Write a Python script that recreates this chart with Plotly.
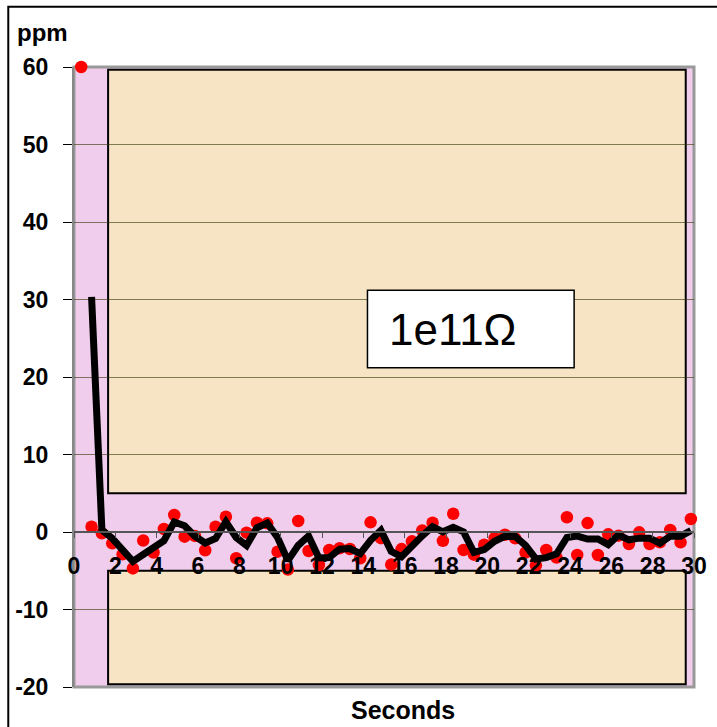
import plotly.graph_objects as go
import pandas as pd

# ---- data ----
seconds = [0.35, 0.85, 1.35, 1.85, 2.35, 2.85, 3.35, 3.85, 4.35, 4.85,
           5.35, 5.85, 6.35, 6.85, 7.35, 7.85, 8.35, 8.85, 9.35, 9.85,
           10.35, 10.85, 11.35, 11.85, 12.35, 12.85, 13.35, 13.85, 14.35, 14.85,
           15.35, 15.85, 16.35, 16.85, 17.35, 17.85, 18.35, 18.85, 19.35, 19.85,
           20.35, 20.85, 21.35, 21.85, 22.35, 22.85, 23.35, 23.85, 24.35, 24.85,
           25.35, 25.85, 26.35, 26.85, 27.35, 27.85, 28.35, 28.85, 29.35, 29.85]
ppm = [60, 0.68, -0.17, -1.46, -2.88, -4.7, -1.1, -2.65, 0.39, 2.19,
       -0.6, -0.5, -2.35, 0.68, 1.97, -3.39, -0.09, 1.2, 1.12, -2.54,
       -4.85, 1.42, -2.45, -4.26, -2.32, -2.1, -2.19, -3.39, 1.25, -0.8,
       -4.2, -2.2, -1.2, 0.2, 1.2, -1.14, 2.36, -2.32, -2.92, -1.63,
       -0.78, -0.35, -0.82, -2.65, -4.3, -2.32, -3.3, 1.9, -2.97, 1.15,
       -2.97, -0.3, -0.47, -1.55, -0.04, -1.55, -1.33, 0.26, -1.33, 1.68]

x_ticks = [0, 2, 4, 6, 8, 10, 12, 14, 16, 18, 20, 22, 24, 26, 28, 30]
y_ticks = [-20, -10, 0, 10, 20, 30, 40, 50, 60]
label_text = "1e11Ω"

# 2-period moving average trendline (as in the original spreadsheet chart)
trend = pd.Series(ppm).rolling(2).mean()

FONT = "Arial, Liberation Sans, sans-serif"
PINK = "#F0CDEC"
BEIGE = "#F7E4C4"

fig = go.Figure()
fig.add_trace(go.Scatter(
    x=seconds, y=ppm, mode="markers", cliponaxis=False,
    marker=dict(color="#FF0000", size=12.5, line=dict(width=0)),
    showlegend=False, hoverinfo="skip"))
fig.add_trace(go.Scatter(
    x=seconds[1:], y=list(trend[1:]), mode="lines",
    line=dict(color="black", width=7),
    showlegend=False, hoverinfo="skip"))

shapes = [
    # plot-area border
    dict(type="rect", xref="paper", yref="paper", x0=0, x1=1, y0=0, y1=1,
         line=dict(color="#999999", width=3), layer="below"),
    # beige panels
    dict(type="rect", xref="x", yref="y", x0=1.65, x1=29.6, y0=5, y1=59.65,
         fillcolor=BEIGE, line=dict(color="black", width=2), layer="below"),
    dict(type="rect", xref="x", yref="y", x0=1.65, x1=29.6, y0=-19.65, y1=-5,
         fillcolor=BEIGE, line=dict(color="black", width=2), layer="below"),
    # outer chart border
    dict(type="rect", xref="paper", yref="paper", x0=-0.106, x1=1.05, y0=-0.08, y1=1.097,
         line=dict(color="black", width=2), layer="above"),
    # label box
    dict(type="rect", xref="x", yref="y", x0=14.2, x1=24.2, y0=21.2, y1=31.2,
         fillcolor="white", line=dict(color="black", width=1.5), layer="above"),
]

annotations = [
    dict(text="<b>ppm</b>", xref="paper", yref="paper", x=-0.095, y=1.056,
         xanchor="left", yanchor="middle", showarrow=False,
         font=dict(family=FONT, size=24, color="black")),
    dict(text="<b>Seconds</b>", xref="paper", yref="paper", x=0.53, y=-0.037,
         xanchor="center", yanchor="middle", showarrow=False,
         font=dict(family=FONT, size=25, color="black")),
    dict(text=label_text, xref="x", yref="y", x=15.15, y=26.1,
         xanchor="left", yanchor="middle", showarrow=False,
         font=dict(family=FONT, size=44, color="black")),
]

fig.update_layout(
    width=717, height=727,
    margin=dict(l=74, r=23, t=67, b=40, autoexpand=False),
    paper_bgcolor="white", plot_bgcolor=PINK,
    shapes=shapes, annotations=annotations,
    font=dict(family=FONT, color="black"),
    xaxis=dict(range=[0, 30], tickvals=x_ticks,
               ticktext=["<b>%d</b>" % v for v in x_ticks],
               anchor="free", position=0.25, showgrid=False, zeroline=False,
               showline=True, linecolor="#555555", linewidth=1.5,
               ticks="outside", ticklen=5, tickcolor="#555555",
               ticklabelstandoff=9, automargin=False,
               tickfont=dict(family=FONT, size=23, color="black")),
    yaxis=dict(range=[-20, 60], tickvals=y_ticks,
               ticktext=["<b>%d</b>" % v for v in y_ticks],
               showgrid=True, gridcolor="rgba(50,50,0,0.6)", gridwidth=1,
               zeroline=False, showline=True, linecolor="#888888", linewidth=2,
               ticks="outside", ticklen=9, tickcolor="black",
               ticklabelstandoff=10, automargin=False,
               tickfont=dict(family=FONT, size=23, color="black")),
)

fig.write_html("out.html", config={"displayModeBar": False},
               post_script="document.body.style.margin='0';")
